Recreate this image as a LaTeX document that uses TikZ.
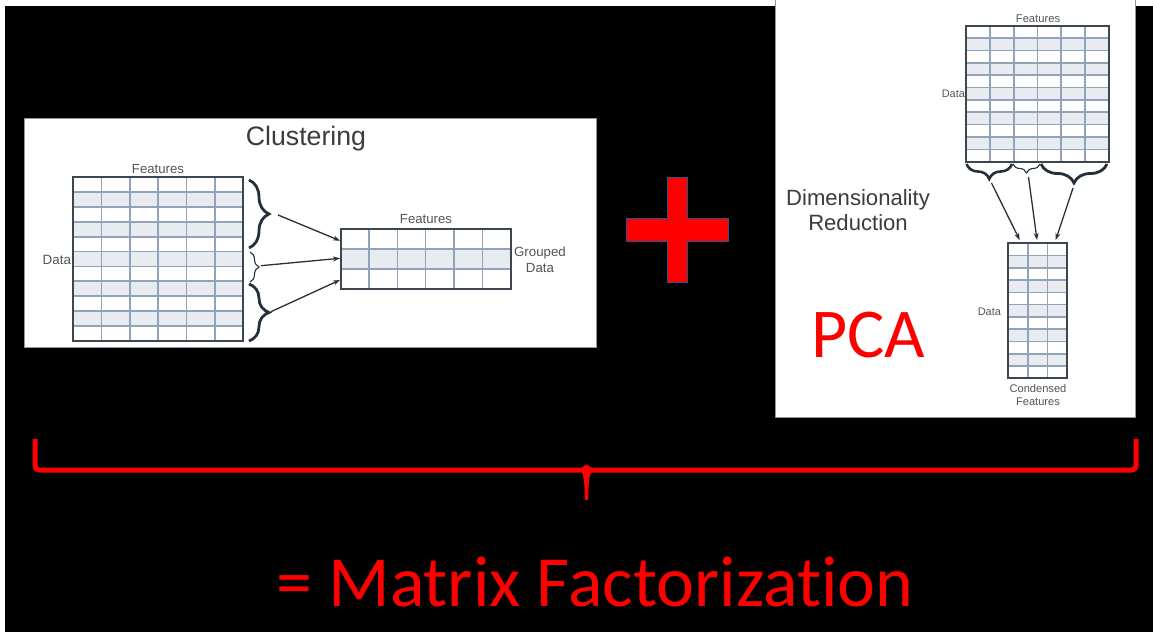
\documentclass[tikz,border=0pt]{standalone}
\usepackage{fontspec}
\setmainfont{Liberation Sans}
\newfontfamily\calibri[Ligatures=CommonOff]{Carlito}
\usetikzlibrary{arrows.meta,decorations.pathreplacing}

% one data table: left, bottom, columns, rows, cell width, cell height, shaded rows
\newcommand{\datatable}[7]{%
  \begin{scope}[shift={(#1,#2)},x=#5pt,y=#6pt]
    \foreach \r in {#7}
      \path[fill=shadeColor] (0,\r) rectangle (#3,\r+1);
    \foreach \c in {1,...,#3}
      \path[draw=gridColor,line width=1.6pt] (\c,0) -- (\c,#4);
    \foreach \r in {1,...,#4}
      \path[draw=gridColor,line width=1.6pt] (0,\r) -- (#3,\r);
    \path[draw=frameColor,line width=2pt] (0,0) rectangle (#3,#4);
  \end{scope}}

\begin{document}
\begin{tikzpicture}[x=1pt,y=1pt]
\definecolor{fillColor}{RGB}{255,255,255}
\definecolor{backColor}{RGB}{0,0,0}
\definecolor{shadeColor}{RGB}{232,236,241}
\definecolor{gridColor}{RGB}{145,163,186}
\definecolor{frameColor}{RGB}{62,70,80}
\definecolor{braceColor}{RGB}{38,48,60}
\definecolor{labelColor}{RGB}{85,85,85}
\definecolor{titleColor}{RGB}{60,60,60}
\definecolor{panelBorder}{RGB}{150,150,150}
\definecolor{accentColor}{RGB}{255,0,0}
\definecolor{crossBorder}{RGB}{47,82,143}
\path[use as bounding box,fill=fillColor] (0,0) rectangle (1153,632);
\path[fill=backColor] (5,0) rectangle (1153,626);

% clustering panel
\begin{scope}
\path[fill=fillColor,draw=panelBorder,line width=1pt] ( 24.5,284.7) rectangle (596.5,513.0);

\datatable{73.3}{291.3}{6}{11}{28.28}{14.85}{1,3,5,7,9}
\datatable{340.7}{342.7}{6}{3}{28.33}{20.1}{1}

\path[draw=braceColor,line width=2.8pt,decorate,decoration={brace,amplitude=20pt}] (249.0,452.0) -- (249.0,384.0);
\path[draw=braceColor,line width=1.1pt,decorate,decoration={brace,amplitude=9pt}] (250.0,380.0) -- (250.0,350.0);
\path[draw=braceColor,line width=2.8pt,decorate,decoration={brace,amplitude=20pt}] (249.0,348.0) -- (249.0,291.0);

\coordinate (groupA) at (278.0,417.0);
\coordinate (groupB) at (261.0,366.3);
\coordinate (groupC) at (271.0,320.3);
\coordinate (rowA) at (340.0,391.3);
\coordinate (rowB) at (340.0,373.7);
\coordinate (rowC) at (340.0,352.0);
\path[draw=braceColor,line width=1.3pt,-{Stealth[length=7pt,width=5pt]}] (groupA) -- (rowA);
\path[draw=braceColor,line width=1.3pt,-{Stealth[length=7pt,width=5pt]}] (groupB) -- (rowB);
\path[draw=braceColor,line width=1.3pt,-{Stealth[length=7pt,width=5pt]}] (groupC) -- (rowC);

\node[text=titleColor,inner sep=0pt,outer sep=0pt,font=\fontsize{26.7}{30}\selectfont] (clusterTitle) at (306.0,493.0) {Clustering};
\node[text=labelColor,inner sep=0pt,outer sep=0pt,font=\fontsize{13.2}{15}\selectfont] (featLeft) at (158.0,463.0) {Features};
\node[text=labelColor,anchor=east,inner sep=0pt,outer sep=0pt,font=\fontsize{13.4}{15}\selectfont] (dataLeft) at ( 71.0,372.0) {Data};
\node[text=labelColor,inner sep=0pt,outer sep=0pt,font=\fontsize{13.2}{15}\selectfont] (featRight) at (426.0,413.0) {Features};
\node[text=labelColor,align=center,inner sep=0pt,outer sep=0pt,font=\fontsize{13.3}{16}\selectfont] (groupedData) at (540.0,372.0) {Grouped\\Data};
\end{scope}

% plus sign
\path[fill=accentColor,draw=crossBorder,line width=0.6pt] (626.7,413.7) -- (667.7,413.7) -- (667.7,454.7) -- (687.7,454.7) -- (687.7,413.7) -- (728.3,413.7) --
	(728.3,390.3) -- (687.7,390.3) -- (687.7,349.3) -- (667.7,349.3) -- (667.7,390.3) -- (626.7,390.3) -- cycle;

% dimensionality reduction panel
\begin{scope}
\path[fill=fillColor,draw=panelBorder,line width=1pt] (775.0,214.0) rectangle (1135.0,640.0);

\datatable{966.3}{470.3}{6}{11}{23.73}{12.36}{1,3,5,7,9}
\datatable{1008.0}{253.7}{3}{11}{19.77}{12.27}{1,3,5,7,9}

\path[draw=braceColor,line width=2.6pt,decorate,decoration={brace,amplitude=15pt}] (1012.0,468.0) -- (966.5,468.0);
\path[draw=braceColor,line width=1.1pt,decorate,decoration={brace,amplitude=9pt}] (1040.0,468.0) -- (1013.0,468.0);
\path[draw=braceColor,line width=2.8pt,decorate,decoration={brace,amplitude=19pt}] (1107.0,468.0) -- (1041.0,468.0);

\coordinate (colA) at (991.5,449.0);
\coordinate (colB) at (1028.5,455.0);
\coordinate (colC) at (1073.0,444.0);
\coordinate (pcA) at (1019.7,392.0);
\coordinate (pcB) at (1037.0,392.0);
\coordinate (pcC) at (1055.7,392.0);
\path[draw=braceColor,line width=1.3pt,-{Stealth[length=7pt,width=5pt]}] (colA) -- (pcA);
\path[draw=braceColor,line width=1.3pt,-{Stealth[length=7pt,width=5pt]}] (colB) -- (pcB);
\path[draw=braceColor,line width=1.3pt,-{Stealth[length=7pt,width=5pt]}] (colC) -- (pcC);

\node[text=labelColor,inner sep=0pt,outer sep=0pt,font=\fontsize{11.2}{13}\selectfont] (featTop) at (1038.0,613.7) {Features};
\node[text=labelColor,anchor=east,inner sep=0pt,outer sep=0pt,font=\fontsize{11.0}{13}\selectfont] (dataTop) at (965.0,538.0) {Data};
\node[text=labelColor,anchor=east,inner sep=0pt,outer sep=0pt,font=\fontsize{11.0}{13}\selectfont] (dataBottom) at (1001.0,320.0) {Data};
\node[text=labelColor,align=center,inner sep=0pt,outer sep=0pt,font=\fontsize{11.1}{13}\selectfont] (condensed) at (1038.0,236.5) {Condensed\\Features};
\node[text=titleColor,align=center,inner sep=0pt,outer sep=0pt,font=\fontsize{22.1}{25}\selectfont] (dimTitle) at (858.0,421.5) {Dimensionality\\Reduction};
\node[text=accentColor,inner sep=0pt,outer sep=0pt,font=\calibri\fontsize{70}{80}\selectfont] (pcaLabel) at (868.0,297.0) {PCA};
\end{scope}

% red brace under both panels
\path[draw=accentColor,line width=5pt,line join=round,rounded corners=4pt] (35.0,193.0) -- (35.0,162.0) -- (1136.0,162.0) -- (1136.0,193.0);
\path[fill=accentColor] (578.0,164.0) .. controls (584.0,162.0) and (584.5,150.0) .. (584.8,132.0) -- (588.2,132.0) .. controls (588.5,150.0) and (589.0,162.0) .. (595.0,164.0) -- cycle;
\path[fill=accentColor] (581.0,164.0) -- (586.5,167.5) -- (592.0,164.0) -- cycle;

\node[text=accentColor,inner sep=0pt,outer sep=0pt,font=\calibri\fontsize{72}{80}\selectfont] (factorization) at (595.0,50.5) {= Matrix Factorization};
\end{tikzpicture}
\end{document}
